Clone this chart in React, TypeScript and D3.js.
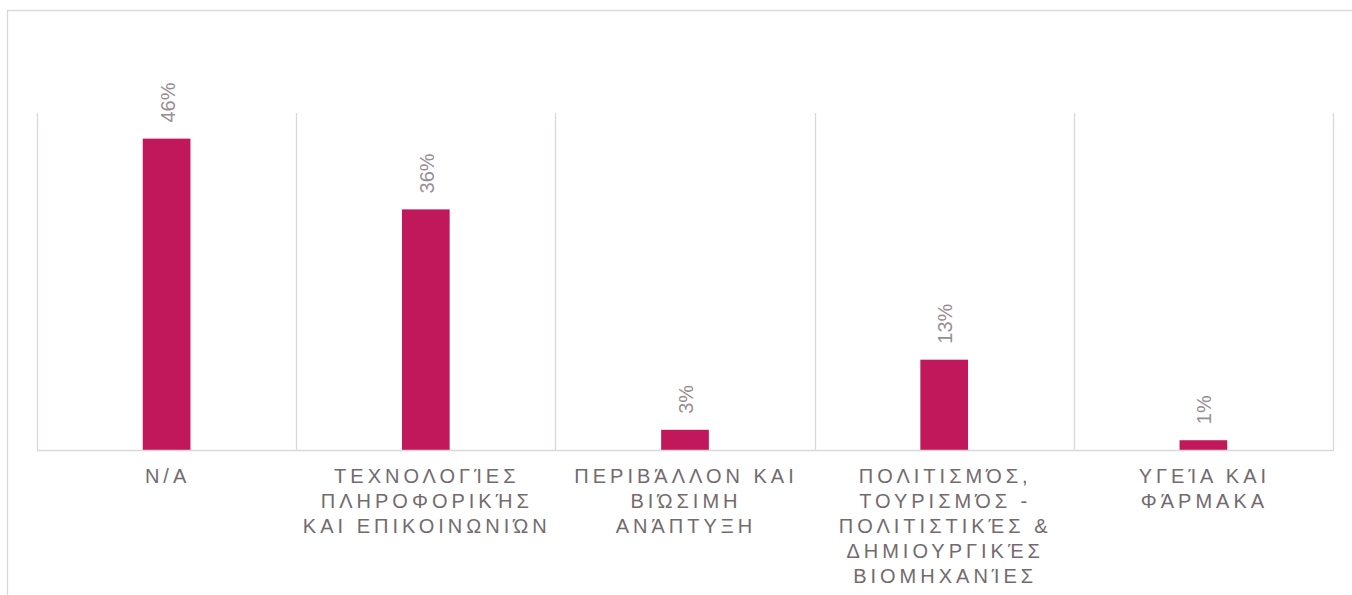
import * as React from "react";
import * as d3 from "d3";

const categories = ["N/A", "TECH", "ENV", "CULT", "HEALTH"];
const categoryLines = [
  ["N/A"],
  ["ΤΕΧΝΟΛΟΓΊΕΣ", "ΠΛΗΡΟΦΟΡΙΚΉΣ", "ΚΑΙ ΕΠΙΚΟΙΝΩΝΙΏΝ"],
  ["ΠΕΡΙΒΆΛΛΟΝ ΚΑΙ", "ΒΙΏΣΙΜΗ", "ΑΝΆΠΤΥΞΗ"],
  ["ΠΟΛΙΤΙΣΜΌΣ,", "ΤΟΥΡΙΣΜΌΣ -", "ΠΟΛΙΤΙΣΤΙΚΈΣ &", "ΔΗΜΙΟΥΡΓΙΚΈΣ", "ΒΙΟΜΗΧΑΝΊΕΣ"],
  ["ΥΓΕΊΑ ΚΑΙ", "ΦΆΡΜΑΚΑ"],
];
const shares = [0.462, 0.357, 0.03, 0.134, 0.0145];
const yMax = 0.5;

function drawChart(svgRef: React.RefObject<SVGSVGElement | null>) {
  const width = 1352;
  const height = 595;
  const plot = { left: 37, right: 1333, top: 113, bottom: 450 };

  const svg = d3.select(svgRef.current).attr("width", width).attr("height", height);
  svg.selectAll("*").remove();

  // outer frame (runs off right/bottom edge)
  svg
    .append("path")
    .attr("d", `M7.5,${height + 5}V10.5H${width + 5}`)
    .attr("fill", "none")
    .attr("stroke", "#d9d9d9")
    .attr("stroke-width", 1.3);

  const x = d3.scaleBand().domain(categories).range([plot.left, plot.right]).padding(0);
  const y = d3.scaleLinear().domain([0, yMax]).range([plot.bottom, plot.top]);
  const barW = x.bandwidth() * 0.184;

  // vertical gridlines at band edges
  const edges = categories.map((c) => x(c) as number).concat([plot.right]);
  svg
    .append("g")
    .selectAll("line")
    .data(edges)
    .enter()
    .append("line")
    .attr("x1", (d) => Math.round(d) + 0.5)
    .attr("x2", (d) => Math.round(d) + 0.5)
    .attr("y1", plot.top)
    .attr("y2", plot.bottom)
    .attr("stroke", "#dcd8d9")
    .attr("stroke-width", 1.3);

  svg
    .selectAll(".bar")
    .data(shares)
    .enter()
    .append("rect")
    .classed("bar", true)
    .attr("x", (d, i) => (x(categories[i]) as number) + x.bandwidth() / 2 - barW / 2)
    .attr("y", (d) => y(d))
    .attr("width", barW)
    .attr("height", (d) => y(0) - y(d))
    .attr("fill", "#c0185a");

  // baseline
  svg
    .append("line")
    .attr("x1", plot.left)
    .attr("x2", plot.right + 1)
    .attr("y1", plot.bottom + 0.5)
    .attr("y2", plot.bottom + 0.5)
    .attr("stroke", "#dcd8d9")
    .attr("stroke-width", 1.5);

  svg
    .selectAll(".label")
    .data(shares)
    .enter()
    .append("text")
    .classed("label", true)
    .text((d) => d3.format(".0%")(d))
    .attr("transform", (d, i) => {
      const cx = (x(categories[i]) as number) + x.bandwidth() / 2 + 8;
      return `translate(${cx},${y(d) - 16}) rotate(-90)`;
    })
    .attr("text-anchor", "start")
    .attr("font-family", "'Liberation Sans', Arial, sans-serif")
    .attr("font-size", 20)
    .attr("fill", "#978d92");

  const cat = svg
    .selectAll(".cat")
    .data(categoryLines)
    .enter()
    .append("text")
    .classed("cat", true)
    .attr("text-anchor", "middle")
    .attr("font-family", "'Liberation Sans', Arial, sans-serif")
    .attr("font-size", 20)
    .attr("letter-spacing", 4)
    .attr("fill", "#746a6d");

  cat
    .selectAll("tspan")
    .data((lines, i) => lines.map((t) => ({ t, i })))
    .enter()
    .append("tspan")
    .attr("x", (d) => (x(categories[d.i]) as number) + x.bandwidth() / 2 + 1)
    .attr("y", (d, j) => 483 + j * 25)
    .text((d) => d.t);
}

const App = () => {
  const svgRef = React.useRef<SVGSVGElement>(null);

  React.useEffect(() => {
    drawChart(svgRef);
  }, [svgRef]);

  return (
    <div id="chart" style={{ position: "absolute", left: 0, top: 0 }}>
      <svg ref={svgRef} style={{ display: "block", background: "#fff" }} />
    </div>
  );
};

export default App;
